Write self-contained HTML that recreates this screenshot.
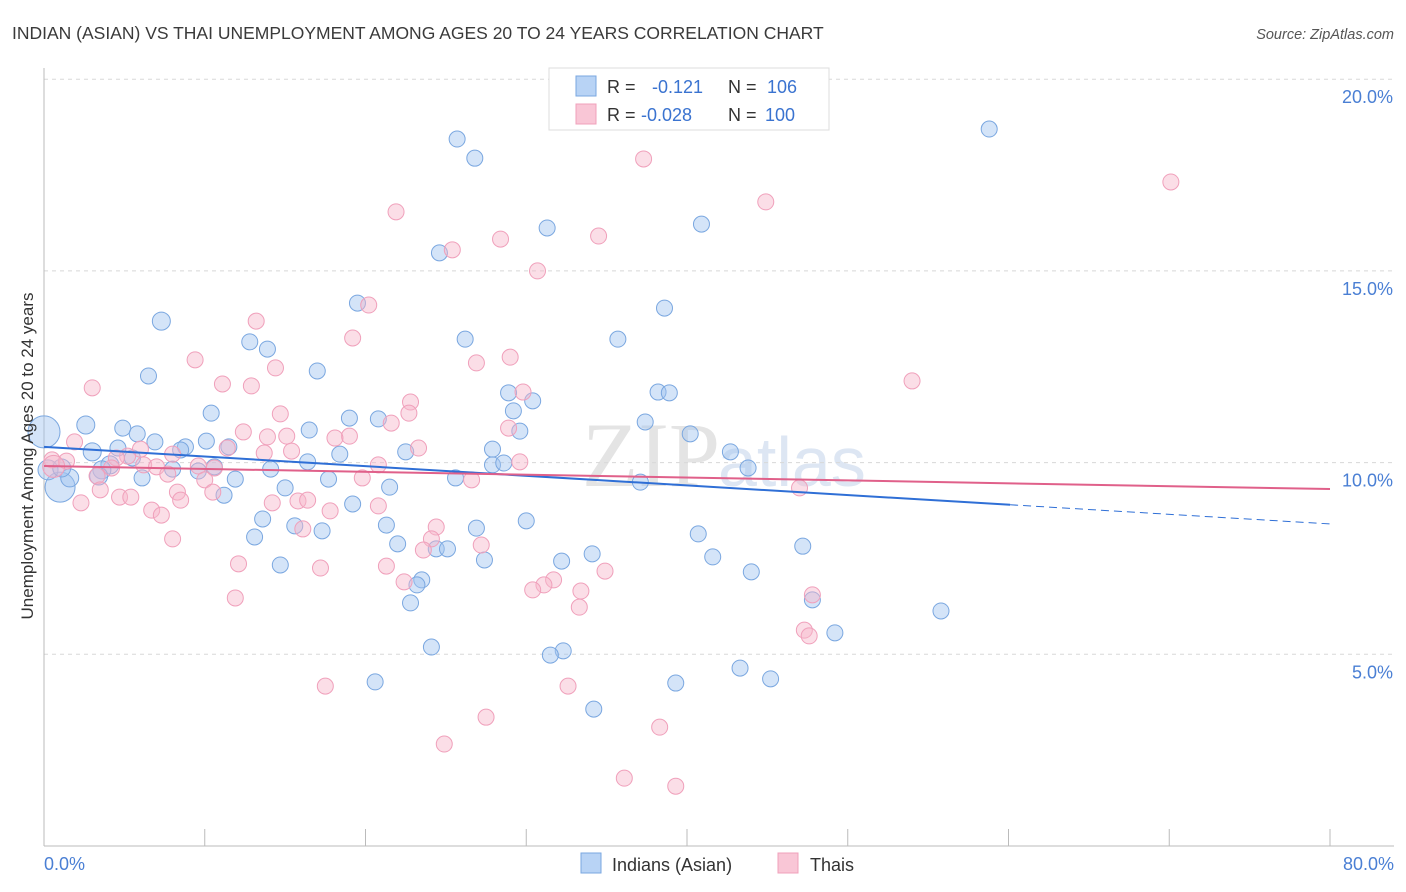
<!DOCTYPE html>
<html><head><meta charset="utf-8">
<style>
body{margin:0;background:#fff;font-family:"Liberation Sans",sans-serif;}
#wrap{position:relative;width:1406px;height:892px;overflow:hidden;}
</style></head>
<body><div id="wrap">
<svg id="svg" width="1406" height="892" xmlns="http://www.w3.org/2000/svg">
<text x="12" y="39" font-size="17.5" fill="#3a3a3a">INDIAN (ASIAN) VS THAI UNEMPLOYMENT AMONG AGES 20 TO 24 YEARS CORRELATION CHART</text>
<text x="1394" y="39" font-size="14.5" fill="#555" font-style="italic" text-anchor="end">Source: ZipAtlas.com</text>
<text x="720" y="486" font-size="92" fill="#e4e4e4" font-family="Liberation Serif,serif" text-anchor="end">ZIP</text>
<text x="718" y="486" font-size="70" fill="#dde6f3" text-anchor="start">atlas</text>
<g id="grid"></g>
<g id="axes"></g>
<g id="pts"></g>
<g id="trend"></g>
<text transform="translate(33,456) rotate(-90)" font-size="17" fill="#333" text-anchor="middle">Unemployment Among Ages 20 to 24 years</text>
<g>
<rect x="549" y="68" width="280" height="62" fill="#fff" stroke="#ddd"/>
<rect x="576" y="76" width="20" height="20" fill="#b8d3f5" stroke="#7aa7e0"/>
<rect x="576" y="104" width="20" height="20" fill="#f9c6d6" stroke="#f0a0bb"/>
<text x="607" y="93" font-size="18" fill="#333">R = <tspan fill="#3a73d0" x="652">-0.121</tspan><tspan x="728" fill="#333">N = </tspan><tspan fill="#3a73d0" x="767">106</tspan></text>
<text x="607" y="121" font-size="18" fill="#333">R = <tspan fill="#3a73d0" x="641">-0.028</tspan><tspan x="728" fill="#333">N = </tspan><tspan fill="#3a73d0" x="765">100</tspan></text>
</g>
<g>
<rect x="581" y="853" width="20" height="20" fill="#b8d3f5" stroke="#7aa7e0"/>
<text x="612" y="871" font-size="18" fill="#333">Indians (Asian)</text>
<rect x="778" y="853" width="20" height="20" fill="#f9c6d6" stroke="#f0a0bb"/>
<text x="810" y="871" font-size="18" fill="#333">Thais</text>
</g>
</svg>
<script>
const blueX=[25.7,26.8,58.8,31.3,40.9,24.6,19.5,38.6,7.3,26.2,35.7,12.8,13.9,6.5,17.0,38.2,38.9,28.9,30.4,10.4,29.2,19.0,20.8,2.6,37.4,4.9,16.5,5.8,29.6,40.2,6.9,10.1,11.5,3.0,4.6,8.8,8.5,22.5,27.9,42.7,5.5,18.4,16.4,4.1,3.6,8.0,9.6,14.1,10.6,27.9,28.6,43.8,3.4,6.1,11.9,17.7,25.6,37.1,15.0,21.5,11.2,19.2,13.6,30.0,21.3,26.9,13.1,15.6,17.3,40.7,22.0,24.4,25.1,34.1,32.2,27.4,41.6,47.2,14.7,44.0,23.5,23.2,22.8,47.8,55.8,49.2,24.1,32.3,31.5,43.3,45.2,20.6,39.3,34.2,1.0,0.0,1.6,0.25,1.1];
const blueY=[18.44,17.94,18.70,16.12,16.22,15.47,14.16,14.03,13.69,13.22,13.22,13.15,12.96,12.26,12.39,11.84,11.82,11.82,11.61,11.29,11.35,11.16,11.14,10.98,11.06,10.90,10.85,10.75,10.82,10.75,10.54,10.56,10.41,10.28,10.38,10.41,10.33,10.28,10.35,10.28,10.12,10.22,10.02,9.94,9.81,9.83,9.78,9.83,9.89,9.94,9.99,9.86,9.65,9.60,9.57,9.57,9.60,9.49,9.34,9.36,9.15,8.92,8.53,8.48,8.37,8.29,8.06,8.35,8.22,8.14,7.88,7.75,7.75,7.62,7.43,7.46,7.54,7.82,7.33,7.15,6.94,6.81,6.34,6.42,6.13,5.56,5.19,5.09,4.98,4.64,4.36,4.28,4.25,3.57,9.36,10.80,9.60,9.81,9.86];
const blueR=[8,8,8,8,8,8,8,8,9,8,8,8,8,8,8,8,8,8,8,8,8,8,8,9,8,8,8,8,8,8,8,8,8,9,8,8,8,8,8,8,8,8,8,9,9,8,8,8,8,8,8,8,9,8,8,8,8,8,8,8,8,8,8,8,8,8,8,8,8,8,8,8,8,8,8,8,8,8,8,8,8,8,8,8,8,8,8,8,8,8,8,8,8,8,15,16,9,10,9];
const pinkX=[37.3,70.1,44.9,21.9,34.5,28.4,25.4,30.7,20.2,13.2,19.2,9.4,26.9,29.0,14.4,3.0,11.1,12.9,54.0,29.8,22.8,14.7,22.7,21.6,12.4,13.9,15.1,19.0,18.1,28.9,1.9,23.3,11.4,15.4,13.7,6.0,5.2,8.0,4.5,0.5,1.4,4.2,9.6,10.6,6.2,7.0,20.8,29.6,3.3,7.7,10.0,19.8,26.6,3.5,4.7,5.4,8.3,10.5,8.5,15.8,16.4,14.2,2.3,6.7,7.3,17.8,20.8,47.0,16.1,24.4,8.0,24.1,27.2,23.6,12.1,17.2,21.3,34.9,22.4,31.7,31.1,30.4,33.4,33.3,47.8,11.9,47.3,47.6,17.5,32.6,27.5,38.3,24.9,36.1,39.3,0.6];
const pinkY=[17.92,17.32,16.80,16.54,15.91,15.83,15.55,15.00,14.11,13.69,13.25,12.68,12.60,12.75,12.47,11.95,12.05,12.00,12.13,11.84,11.58,11.27,11.29,11.03,10.80,10.67,10.69,10.69,10.64,10.90,10.54,10.38,10.38,10.30,10.25,10.35,10.17,10.22,10.12,10.07,10.04,9.86,9.91,9.86,9.94,9.89,9.94,10.02,9.65,9.70,9.55,9.60,9.55,9.29,9.10,9.10,9.23,9.23,9.02,9.00,9.02,8.95,8.95,8.76,8.63,8.74,8.87,9.34,8.27,8.32,8.01,8.01,7.85,7.72,7.36,7.25,7.30,7.17,6.89,6.94,6.81,6.68,6.65,6.23,6.55,6.47,5.63,5.48,4.17,4.17,3.36,3.10,2.66,1.77,1.56,9.9];
const yTicks=[5,10,15,20];
const yTickLabels=["5.0%","10.0%","15.0%","20.0%"];
const xTicks=[0,10,20,30,40,50,60,70,80];
const xTickLabels=["0.0%","80.0%"];
const blueTrend=[10.41,8.40];   // y at x=0 and x=80
const blueSolidEnd=60.1;
const pinkTrend=[9.91,9.31];

const NS="http://www.w3.org/2000/svg";
const X0=44,X1=1330,Y0=846,PY=38.34;
function sx(v){return X0+(X1-X0)*v/80;}
function sy(v){return Y0-v*PY;}
function mk(tag,attrs,parent){const e=document.createElementNS(NS,tag);for(const k in attrs)e.setAttribute(k,attrs[k]);parent.appendChild(e);return e;}
const grid=document.getElementById('grid'),axes=document.getElementById('axes'),pts=document.getElementById('pts'),trend=document.getElementById('trend');
yTicks.forEach((t,i)=>{
  const l=mk('line',{x1:X0,x2:1394,y1:sy(t),y2:sy(t),stroke:'#d8d8d8','stroke-dasharray':'4,4'},grid);
  
  
  const tx=mk('text',{x:1393,y:sy(t)+24,'font-size':18,fill:'#4a7fd4','text-anchor':'end'},grid);
  tx.textContent=yTickLabels[i];
  
  
});
const ax=mk('line',{x1:X0,x2:X0,y1:68,y2:846,stroke:'#bbb'},axes);


const bx=mk('line',{x1:X0,x2:1394,y1:846,y2:846,stroke:'#bbb'},axes);


xTicks.forEach(t=>{
  const l=mk('line',{x1:sx(t),x2:sx(t),y1:829,y2:846,stroke:'#bbb'},axes);
  
  
});
const xl0=mk('text',{x:44,y:870,'font-size':18,fill:'#4a7fd4'},axes);
xl0.textContent=xTickLabels[0];


const xl1=mk('text',{x:1394,y:870,'font-size':18,fill:'#4a7fd4','text-anchor':'end'},axes);
xl1.textContent=xTickLabels[1];


blueX.forEach((v,i)=>{
  const c=mk('circle',{cx:sx(v),cy:sy(blueY[i]),r:blueR[i]||8,fill:'rgba(160,196,240,0.45)',stroke:'#7aa7e0','stroke-width':1},pts);
  
  
});
pinkX.forEach((v,i)=>{
  const r=i===pinkX.length-1?11:8;
  const c=mk('circle',{cx:sx(v),cy:sy(pinkY[i]),r:r,fill:'rgba(246,182,202,0.45)',stroke:'#f0a0bb','stroke-width':1},pts);
  
  
});
function ty(tr,x){return tr[0]+(tr[1]-tr[0])*x/80;}
const bl=mk('line',{x1:sx(0),y1:sy(blueTrend[0]),x2:sx(blueSolidEnd),y2:sy(ty(blueTrend,blueSolidEnd)),stroke:'#2f6fd6','stroke-width':2},trend);


const bd=mk('line',{x1:sx(blueSolidEnd),y1:sy(ty(blueTrend,blueSolidEnd)),x2:sx(80),y2:sy(blueTrend[1]),stroke:'#2f6fd6','stroke-width':1,'stroke-dasharray':'8,5'},trend);


const pl=mk('line',{x1:sx(0),y1:sy(pinkTrend[0]),x2:sx(80),y2:sy(pinkTrend[1]),stroke:'#e0608a','stroke-width':2},trend);


</script>
</div></body></html>
